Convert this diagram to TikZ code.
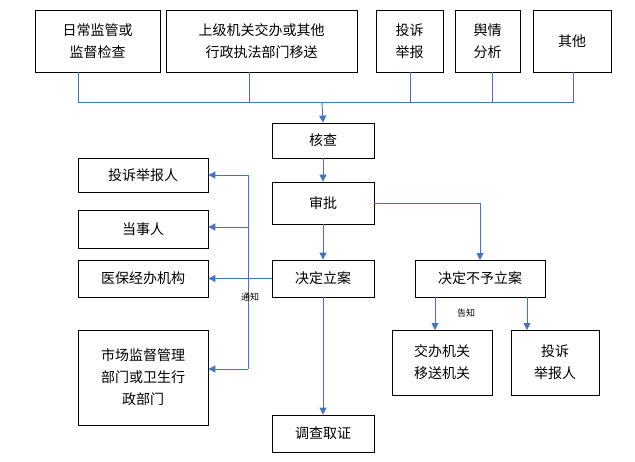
\documentclass[tikz,border=0pt]{standalone}
\usepackage{fontspec}
\setmainfont{Noto Sans CJK SC}
\usetikzlibrary{arrows.meta}
\definecolor{lnblue}{HTML}{4472C4}
\begin{document}
\begin{tikzpicture}[x=1pt,y=-1pt,
  box/.style={draw,line width=0.8pt,align=center,font=\fontsize{14}{22}\selectfont},
  ln/.style={draw=lnblue,line width=0.9pt},
  ar/.style={ln,-{Triangle[width=7pt,length=7pt]}},
  lab/.style={font=\fontsize{9}{10}\selectfont}]
\path[use as bounding box] (0,0) rectangle (635,461);
\newcommand\bx[6]{\node[box,minimum width=#4-#2,minimum height=#5-#3,inner sep=0pt] (#1) at ({(#2+#4)/2},{(#3+#5)/2}) {#6};}
\bx{a}{35}{10}{160}{72}{日常监管或\\监督检查}
\bx{b}{166}{10}{357}{72}{上级机关交办或其他\\行政执法部门移送}
\bx{c}{376}{10}{443}{72}{投诉\\举报}
\bx{d}{455}{10}{520}{72}{舆情\\分析}
\bx{e}{533}{10}{611}{72}{其他}
\bx{hc}{272}{123}{374}{158}{核查}
\bx{sp}{272}{182}{374}{224}{审批}
\bx{la}{272}{260}{374}{297}{决定立案}
\bx{bl}{415}{260}{545}{297}{决定不予立案}
\bx{dc}{272}{415}{374}{452}{调查取证}
\bx{l1}{78}{158}{208}{192}{投诉举报人}
\bx{l2}{78}{210}{208}{248}{当事人}
\bx{l3}{78}{260}{208}{297}{医保经办机构}
\bx{l4}{78}{330}{208}{425}{市场监督管理\\部门或卫生行\\政部门}
\bx{r1}{392}{330}{492}{395}{交办机关\\移送机关}
\bx{r2}{511}{330}{599}{395}{投诉\\举报人}
\coordinate (bus) at (322,102);
\draw[ln] (78,72) -- (78,102) -- (573,102) -- (573,72);
\draw[ln] (249,72) -- (249,102);
\draw[ln] (410,72) -- (410,102);
\draw[ln] (492,72) -- (492,102);
\draw[ar] (bus) -- (hc.north);
\draw[ar] (hc) -- (sp);
\draw[ar] (sp) -- (la);
\draw[ar] (sp.east) -| (480,260);
\draw[ar] (la) -- (dc);
\draw[ar] (la.west) -- (l3.east);
\draw[ln] (248,175) -- (248,369);
\draw[ar] (248,175) -- (l1.east|-248,175);
\draw[ar] (248,227) -- (l2.east|-248,227);
\draw[ar] (248,369) -- (l4.east|-248,369);
\node[lab] (tz) at (250,297) {通知};
\draw[ar] (435,297) -- (435,330);
\draw[ar] (527,297) -- (527,330);
\node[lab] (gz) at (466,313) {告知};
\end{tikzpicture}
\end{document}
